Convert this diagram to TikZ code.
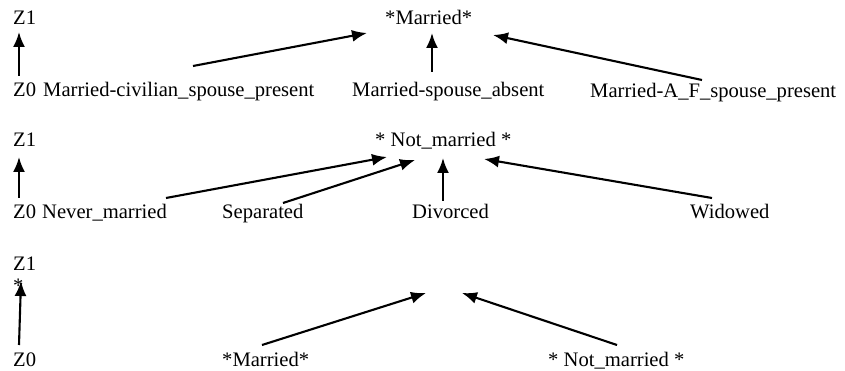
\documentclass[tikz,border=0pt]{standalone}
\usepackage{fontspec}
\setmainfont{Liberation Serif}
\usetikzlibrary{arrows.meta,calc}

\begin{document}
\begin{tikzpicture}[x=1pt,y=-1pt,
	lbl/.style={inner sep=0pt,anchor=base west,font=\fontsize{20.6}{23}\selectfont},
	->/.style={-{Latex[length=15pt,width=12pt]},line width=2.1pt}]
			\useasboundingbox (0,0) rectangle (845,371);
			% married
			\node[lbl] (z1a) at (13,25) {Z1};
			\node[lbl] (z0a) at (13,97) {Z0};
			\node[lbl] (mar) at (385,25) {*Married*};
			\node[lbl] (civ) at (43,97) {Married-civilian\_spouse\_present};
			\node[lbl] (abs) at (352,97) {Married-spouse\_absent};
			\node[lbl] (af) at (590,98) {Married-A\_F\_spouse\_present};
			\draw[->] ($(z0a.base west)+(6,-21)$) to ($(z1a.base west)+(6,7)$);
			\draw[->] ($(civ.base west)+(150,-31)$) to ($(mar.base west)+(-18,8)$);
			\draw[->] ($(abs.base west)+(80,-25)$) to ($(mar.base west)+(47,8)$);
			\draw[->] ($(af.base west)+(112,-18)$) to ($(mar.base west)+(108,10)$);
			% not married
			\node[lbl] (z1b) at (13,147) {Z1};
			\node[lbl] (z0b) at (13,219) {Z0};
			\node[lbl] (nm) at (375,147) {* Not\_married *};
			\node[lbl] (nev) at (42,219) {Never\_married};
			\node[lbl] (sep) at (222,219) {Separated};
			\node[lbl] (div) at (412,219) {Divorced};
			\node[lbl] (wid) at (690,219) {Widowed};
			\draw[->] ($(z0b.base west)+(6,-21)$) to ($(z1b.base west)+(6,10)$);
			\draw[->] ($(nev.base west)+(124,-21)$) to ($(nm.base west)+(12,10)$);
			\draw[->] ($(sep.base west)+(61,-16)$) to ($(nm.base west)+(40,13)$);
			\draw[->] ($(div.base west)+(31,-18)$) to ($(nm.base west)+(68,11)$);
			\draw[->] ($(wid.base west)+(22,-21)$) to ($(nm.base west)+(109,12)$);
			% top level
			\node[lbl] (z1c) at (13,270) {Z1};
			\node[lbl] (star) at (13,292) {*};
			\node[lbl] (z0c) at (13,366) {Z0};
			\node[lbl] (mar3) at (222,366) {*Married*};
			\node[lbl] (nm3) at (548,366) {* Not\_married *};
			\coordinate (root) at (444,293);
			\draw[->] ($(z0c.base west)+(6,-21)$) to ($(star.base west)+(8,-11)$);
			\draw[->] ($(mar3.base west)+(40,-21)$) to ($(root)+(-18,0)$);
			\draw[->] ($(nm3.base west)+(69,-21)$) to ($(root)+(18,0)$);
		\end{tikzpicture}
\end{document}
